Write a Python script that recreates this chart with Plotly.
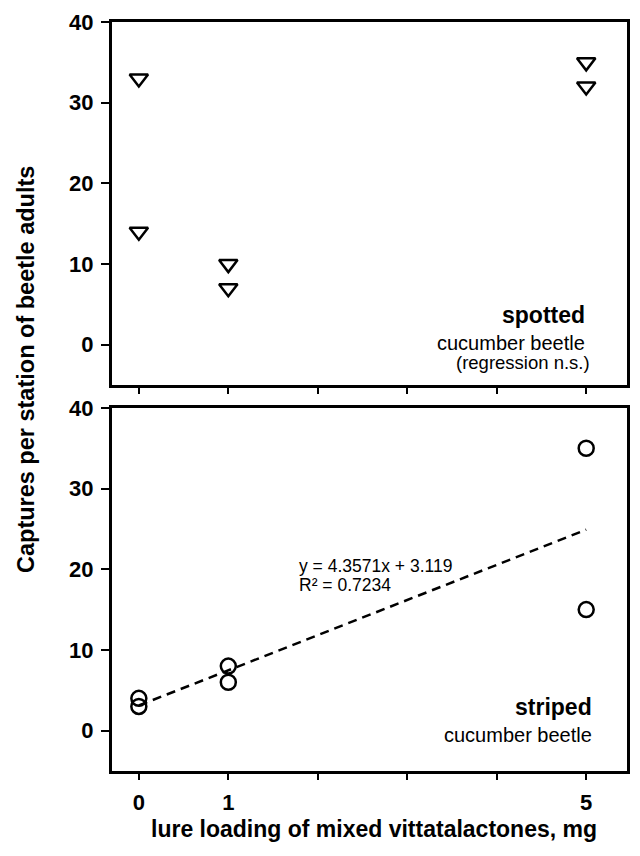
import plotly.graph_objects as go

# ---- data ----
spotted_x = [0, 0, 1, 1, 5, 5]
spotted_y = [33, 14, 10, 7, 35, 32]
striped_x = [0, 0, 1, 1, 5, 5]
striped_y = [4, 3, 8, 6, 35, 15]
reg_slope = 4.3571
reg_intercept = 3.119
reg_x = [0, 5]
x_tickvals = [0, 1, 2, 3, 4, 5]
x_ticktext = ["0", "1", "", "", "", "5"]
y_tickvals = [0, 10, 20, 30, 40]

reg_y = [reg_slope * v + reg_intercept for v in reg_x]

FONT = "Liberation Sans, Arial, sans-serif"
LW = 3

fig = go.Figure()
fig.add_trace(go.Scatter(
    x=spotted_x, y=spotted_y, mode="markers", xaxis="x", yaxis="y",
    marker=dict(symbol="triangle-down-open", size=16, color="black",
                line=dict(width=2.5, color="black")),
    showlegend=False, hoverinfo="skip"))
fig.add_trace(go.Scatter(
    x=reg_x, y=reg_y, mode="lines", xaxis="x2", yaxis="y2",
    line=dict(color="black", width=2.5, dash="9px,6px"),
    showlegend=False, hoverinfo="skip"))
fig.add_trace(go.Scatter(
    x=striped_x, y=striped_y, mode="markers", xaxis="x2", yaxis="y2",
    marker=dict(symbol="circle-open", size=15, color="black",
                line=dict(width=2.5, color="black")),
    showlegend=False, hoverinfo="skip"))

XR = [-0.3, 5.456]
xcommon = dict(range=XR, tickvals=x_tickvals, ticks="outside",
               ticklen=6, tickwidth=2, tickcolor="black", showline=True,
               linewidth=LW, linecolor="black", mirror=True, showgrid=False,
               zeroline=False,
               tickfont=dict(family=FONT, size=22, color="black", weight="bold"))
ycommon = dict(range=[-5, 40], tickvals=y_tickvals, ticks="outside",
               ticklen=8, tickwidth=2, tickcolor="black", showline=True,
               linewidth=LW, linecolor="black", mirror=True, showgrid=False,
               zeroline=False, ticklabelstandoff=3,
               tickfont=dict(family=FONT, size=22, color="black", weight="bold"))
yright = dict(range=[-5, 40], tickvals=y_tickvals, ticks="inside", ticklen=8,
              tickwidth=2, tickcolor="black", showticklabels=False,
              showline=False, showgrid=False, zeroline=False, side="right")

top_dom = [0.5152, 1.0]
bot_dom = [0.0, 0.4848]

# page body has an 8px margin; size the figure so page = 640x856
fig.update_layout(
    width=624, height=840,
    margin=dict(l=104, r=2, t=8, b=77),
    paper_bgcolor="white", plot_bgcolor="white",
    xaxis=dict(**xcommon, anchor="y", showticklabels=False),
    yaxis=dict(**ycommon, domain=top_dom, anchor="x"),
    xaxis2=dict(**xcommon, anchor="y2", ticktext=x_ticktext,
                ticklabelstandoff=4),
    yaxis2=dict(**ycommon, domain=bot_dom, anchor="x2"),
    yaxis3=dict(**yright, overlaying="y", anchor="x"),
    yaxis4=dict(**yright, overlaying="y2", anchor="x2"),
)

ann = []
ann.append(dict(text="Captures per station of beetle adults", xref="paper",
                yref="paper", x=-0.168, y=0.536, textangle=-90,
                showarrow=False, xanchor="center", yanchor="middle",
                font=dict(family=FONT, size=23.5, color="black", weight="bold")))
ann.append(dict(text="lure loading of mixed vittatalactones, mg", xref="paper",
                yref="paper", x=0.508, y=-0.078, showarrow=False,
                xanchor="center", yanchor="middle",
                font=dict(family=FONT, size=23, color="black", weight="bold")))
ann.append(dict(text="spotted", xref="x", yref="y", x=5.01, y=3.7,
                showarrow=False, xanchor="right", yanchor="middle",
                font=dict(family=FONT, size=23, color="black", weight="bold")))
ann.append(dict(text="cucumber beetle", xref="x", yref="y", x=5.01, y=0.25,
                showarrow=False, xanchor="right", yanchor="middle",
                font=dict(family=FONT, size=20, color="black")))
ann.append(dict(text="(regression n.s.)", xref="x", yref="y", x=5.07, y=-2.2,
                showarrow=False, xanchor="right", yanchor="middle",
                font=dict(family=FONT, size=18.5, color="black")))
ann.append(dict(text="striped", xref="x2", yref="y2", x=5.09, y=2.9,
                showarrow=False, xanchor="right", yanchor="middle",
                font=dict(family=FONT, size=23, color="black", weight="bold")))
ann.append(dict(text="cucumber beetle", xref="x2", yref="y2", x=5.09, y=-0.5,
                showarrow=False, xanchor="right", yanchor="middle",
                font=dict(family=FONT, size=20, color="black")))
ann.append(dict(text=f"y = {reg_slope}x + {reg_intercept}", xref="x2", yref="y2",
                x=1.77, y=20.4, showarrow=False, xanchor="left",
                yanchor="middle", font=dict(family=FONT, size=17.5, color="black")))
ann.append(dict(text="R² = 0.7234", xref="x2", yref="y2",
                x=1.77, y=18.0, showarrow=False, xanchor="left",
                yanchor="middle", font=dict(family=FONT, size=17.5, color="black")))
fig.update_layout(annotations=ann)

fig.write_html("out.html")
